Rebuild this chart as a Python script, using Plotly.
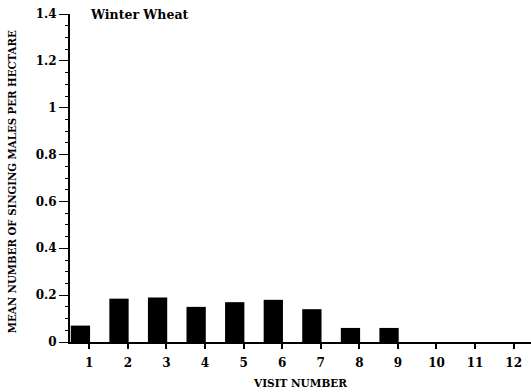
import plotly.graph_objects as go

# Mean singing males per hectare by visit, winter wheat fields
visits = [1, 2, 3, 4, 5, 6, 7, 8, 9, 10, 11, 12]
mean_males = [0.07, 0.185, 0.19, 0.15, 0.17, 0.18, 0.14, 0.06, 0.06, 0, 0, 0]
y_ticks = [0, 0.2, 0.4, 0.6, 0.8, 1, 1.2, 1.4]
y_tick_text = ["0", "0.2", "0.4", "0.6", "0.8", "1", "1.2", "1.4"]

serif = "Century Schoolbook, DejaVu Serif, Liberation Serif, serif"

fig = go.Figure(
    go.Bar(
        x=visits,
        y=mean_males,
        width=0.5,
        offset=-0.48,
        marker=dict(color="black", line=dict(width=0)),
    )
)

fig.update_layout(
    width=531,
    height=392,
    margin=dict(l=70, r=0, t=14, b=50),
    paper_bgcolor="white",
    plot_bgcolor="white",
    showlegend=False,
    font=dict(family=serif, color="black"),
    annotations=[
        dict(
            text="<b>Winter Wheat</b>",
            x=0.038, xref="paper",
            y=1.4, yref="y",
            xanchor="left", yanchor="middle",
            showarrow=False,
            font=dict(family=serif, size=12.5, color="black"),
        ),
        dict(
            text="<b>MEAN NUMBER OF SINGING MALES PER HECTARE</b>",
            x=-0.126, xref="paper",
            y=0.49, yref="paper",
            xanchor="center", yanchor="middle",
            textangle=-90,
            showarrow=False,
            font=dict(family=serif, size=10.2, color="black"),
        ),
    ],
)

fig.update_xaxes(
    range=[0.5, 12.45],
    tickvals=visits,
    ticktext=[f"<b>{v}</b>" for v in visits],
    tickfont=dict(family=serif, size=12, color="black"),
    ticks="outside",
    ticklen=5,
    tickwidth=1.5,
    tickcolor="black",
    ticklabelstandoff=4,
    showline=True,
    linecolor="black",
    linewidth=1.5,
    showgrid=False,
    zeroline=False,
    title=dict(
        text="<b>VISIT NUMBER</b>",
        font=dict(family=serif, size=10.5, color="black"),
        standoff=10,
    ),
)

fig.update_yaxes(
    range=[0, 1.4],
    tickvals=y_ticks,
    ticktext=[f"<b>{t}</b>" for t in y_tick_text],
    tickfont=dict(family=serif, size=12, color="black"),
    ticks="outside",
    ticklen=9,
    tickwidth=1.2,
    tickcolor="black",
    minor=dict(dtick=0.05, ticks="outside", ticklen=3, tickcolor="black", tickwidth=1),
    showline=True,
    linecolor="black",
    linewidth=2,
    showgrid=False,
    zeroline=False,
)

fig.write_html("out.html")
